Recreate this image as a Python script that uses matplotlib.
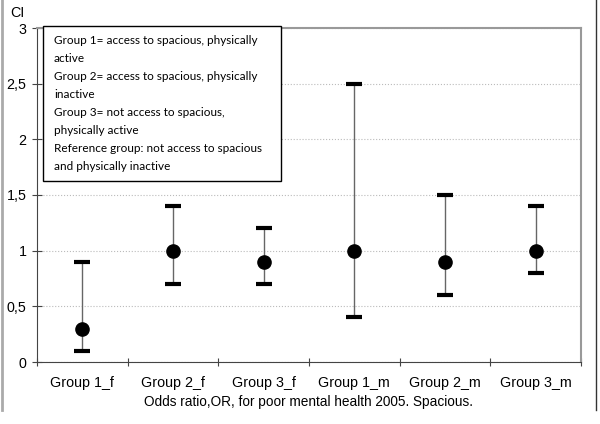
import numpy as np
import matplotlib.pyplot as plt
from matplotlib.ticker import FuncFormatter

groups = ['Group 1_f', 'Group 2_f', 'Group 3_f', 'Group 1_m', 'Group 2_m', 'Group 3_m']
odds = [0.3, 1.0, 0.9, 1.0, 0.9, 1.0]
lower = [0.1, 0.7, 0.7, 0.4, 0.6, 0.8]
upper = [0.9, 1.4, 1.2, 2.5, 1.5, 1.4]

legend_lines = ['Group 1= access to spacious, physically', 'active',
                'Group 2= access to spacious, physically', 'inactive',
                'Group 3= not access to spacious,', 'physically active',
                'Reference group: not access to spacious', 'and physically inactive']

plt.rcParams['font.family'] = ['Liberation Sans', 'DejaVu Sans']

fig = plt.figure(figsize=(6, 4.24), dpi=100)
ax = fig.add_axes([37/600, 1 - 362/424, (581-37)/600, (362-28)/424])

x = np.arange(len(groups))

# whisker lines
ax.vlines(x, lower, upper, color='#666666', lw=1, zorder=2)
# caps
ax.plot(x, lower, ls='none', marker='_', ms=11, mew=3, color='black', zorder=3)
ax.plot(x, upper, ls='none', marker='_', ms=11, mew=3, color='black', zorder=3)
ax.plot(x, odds, ls='none', marker='o', ms=9.5, color='black', zorder=4)

ax.set_xlim(-0.5, len(groups) - 0.5)
ax.set_ylim(0, 3)
ax.set_yticks(np.arange(0, 3.01, 0.5))
ax.yaxis.set_major_formatter(FuncFormatter(lambda v, p: ('%g' % v).replace('.', ',')))
ax.set_xticks(np.arange(-0.5, len(groups), 1))
ax.set_xticklabels([])
ax.set_xticks(x, minor=True)
ax.set_xticklabels(groups, minor=True, fontsize=10.3)
ax.tick_params(axis='x', which='minor', length=0, pad=10)
ax.tick_params(axis='x', which='major', length=6, direction='inout', color='#444444')
ax.tick_params(axis='y', length=7, direction='inout', labelsize=10.3, color='#444444', pad=4)

ax.yaxis.grid(True, ls=':', color='#bbbbbb', lw=0.8)
ax.set_axisbelow(True)
for s in ['top', 'right']:
    ax.spines[s].set_color('#999999')
    ax.spines[s].set_linewidth(1.5)
for s in ['left', 'bottom']:
    ax.spines[s].set_color('#444444')

ax.set_xlabel('Odds ratio,OR, for poor mental health 2005. Spacious.', fontsize=9.8, labelpad=4)
fig.text(10/600, 1 - 13/424, 'CI', fontsize=10.3, va='center')

# explanatory box
box = plt.Rectangle((43/600, 1 - 181/424), (281-43)/600, (181-26)/424,
                    transform=fig.transFigure, facecolor='white', edgecolor='black', lw=1, zorder=5)
fig.patches.append(box)
for i, line in enumerate(legend_lines):
    fig.text(54/600, 1 - (40 + 18*i)/424, line, fontsize=8.5, family=['Lato', 'DejaVu Sans'],
             va='center', zorder=6)

# frame lines at the image edges
fig.add_artist(plt.Line2D([2/600, 2/600], [1 - 410/424, 1], color='#aaaaaa', lw=2))
fig.add_artist(plt.Line2D([596/600, 596/600], [1 - 410/424, 1], color='#333333', lw=1))

fig.savefig('out.png', dpi=100)
